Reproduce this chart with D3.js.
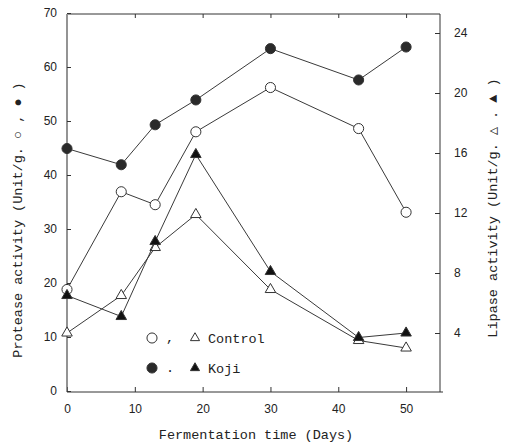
<!DOCTYPE html>
<html>
<head>
<meta charset="utf-8">
<script src="https://cdn.jsdelivr.net/npm/d3@7"></script>
<style>
  body { margin: 0; background: #fff; }
  .tick text { font-family: "Liberation Sans", sans-serif; font-size: 12px; fill: #222; }
  .lbl { font-family: "Liberation Mono", monospace; font-size: 13.5px; fill: #222; }
</style>
</head>
<body>
<svg id="chart"></svg>
<script>
const days = [0, 8, 13, 19, 30, 43, 50];
const proteaseControl = [18.8, 36.9, 34.5, 48.0, 56.2, 48.6, 33.1];
const proteaseKoji = [44.9, 41.9, 49.3, 53.9, 63.4, 57.6, 63.7];
const lipaseControl = [4.0, 6.5, 9.7, 11.9, 6.9, 3.5, 3.0];
const lipaseKoji = [6.5, 5.1, 10.1, 15.9, 8.1, 3.7, 4.0];
const xTicks = [0, 10, 20, 30, 40, 50];
const leftTicks = [0, 10, 20, 30, 40, 50, 60, 70];
const rightTicks = [4, 8, 12, 16, 20, 24];

const width = 513, height = 446;
const svg = d3.select("#chart").attr("width", width).attr("height", height);

const x = d3.scaleLinear().domain([0, 55]).range([67, 440]);
const yL = d3.scaleLinear().domain([0, 70]).range([391, 13]);
const yR = d3.scaleLinear().domain([0, 24]).range([393, 33]);

const ink = "#333";

// axes
svg.append("g")
  .attr("transform", "translate(0,392)")
  .call(d3.axisBottom(x).tickValues(xTicks).tickSize(-5).tickPadding(12).tickSizeOuter(0))
  .call(g => g.select(".domain").attr("stroke", ink).attr("d", "M67,0H443"));

svg.append("g")
  .attr("transform", "translate(0,14)")
  .call(d3.axisTop(x).tickValues(xTicks.slice(1)).tickSize(-4).tickFormat("").tickSizeOuter(0))
  .call(g => g.select(".domain").attr("stroke", ink).attr("d", "M68,0H440"));

svg.append("g")
  .attr("transform", "translate(67,0)")
  .call(d3.axisLeft(yL).tickValues(leftTicks).tickSize(-4).tickPadding(10).tickSizeOuter(0))
  .call(g => g.select(".domain").attr("stroke", "#666").attr("stroke-width", 1.4).attr("d", "M0,14V392"));

svg.append("g")
  .attr("transform", "translate(440,0)")
  .call(d3.axisRight(yR).tickValues(rightTicks).tickSize(-5).tickPadding(14).tickSizeOuter(0))
  .call(g => g.select(".domain").attr("stroke", ink).attr("d", "M0,14V392"));

svg.selectAll(".tick line").attr("stroke", ink);

// lines
const series = [
  { vals: proteaseControl, y: yL, shape: "circle", fill: "#fff" },
  { vals: proteaseKoji, y: yL, shape: "circle", fill: "#2a2a2a" },
  { vals: lipaseControl, y: yR, shape: "tri", fill: "#fff" },
  { vals: lipaseKoji, y: yR, shape: "tri", fill: "#111" }
];

const circle = d3.symbol().type(d3.symbolCircle).size(80);
const tri = d3.symbol().type(d3.symbolTriangle).size(48);

series.forEach(s => {
  const pts = days.map((d, i) => [x(d), s.y(s.vals[i])]);
  svg.append("path")
    .attr("d", d3.line()(pts))
    .attr("fill", "none")
    .attr("stroke", "#3a3a3a")
    .attr("stroke-width", 1);
  svg.selectAll(null)
    .data(pts)
    .enter()
    .append("path")
    .attr("transform", p => `translate(${p[0]},${p[1]})`)
    .attr("d", s.shape === "circle" ? circle : tri)
    .attr("fill", s.fill)
    .attr("stroke", ink)
    .attr("stroke-width", 1);
});

// legend
const legend = [
  { y: 338, a: { shape: "circle", fill: "#fff" }, sep: ",", b: { shape: "tri", fill: "#fff" }, text: "Control" },
  { y: 368, a: { shape: "circle", fill: "#2a2a2a" }, sep: ".", b: { shape: "tri", fill: "#111" }, text: "Koji" }
];
legend.forEach(l => {
  svg.append("path").attr("transform", `translate(152,${l.y})`)
    .attr("d", circle).attr("fill", l.a.fill).attr("stroke", ink);
  svg.append("text").attr("class", "lbl").attr("x", 166).attr("y", l.y + 4).text(l.sep);
  svg.append("path").attr("transform", `translate(195,${l.y})`)
    .attr("d", d3.symbol().type(d3.symbolTriangle).size(36)).attr("fill", l.b.fill).attr("stroke", ink);
  svg.append("text").attr("class", "lbl").attr("x", 208).attr("y", l.y + 5).text(l.text);
});

// axis titles
svg.append("text").attr("class", "lbl")
  .attr("x", 256).attr("y", 439)
  .attr("text-anchor", "middle")
  .text("Fermentation time (Days)");

svg.append("text").attr("class", "lbl")
  .attr("transform", "translate(22,220) rotate(-90)")
  .attr("text-anchor", "middle")
  .text("Protease activity (Unit/g.  \u25CB , \u25CF )");

svg.append("text").attr("class", "lbl")
  .attr("transform", "translate(497,208) rotate(-90)")
  .attr("text-anchor", "middle")
  .text("Lipase activity (Unit/g.  \u25B3 . \u25B2 )");
</script>
</body>
</html>
